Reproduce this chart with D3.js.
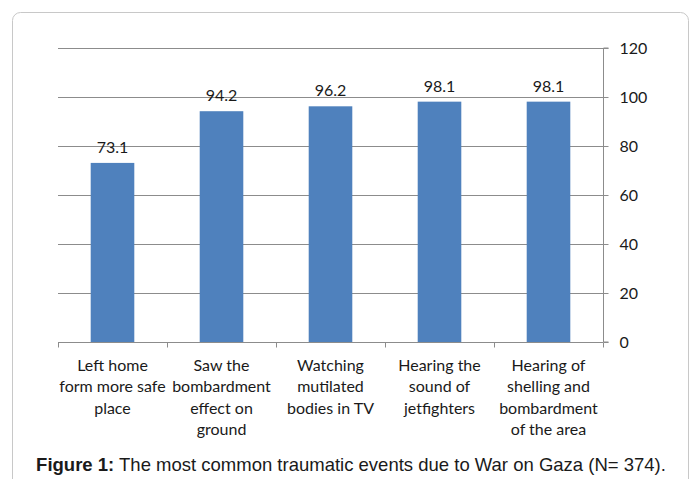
<!DOCTYPE html>
<html>
<head>
<meta charset="utf-8">
<script src="https://cdn.jsdelivr.net/npm/d3@7"></script>
<style>
  body { margin: 0; background: #fff; }
  svg text { font-family: Lato, "Open Sans", sans-serif; fill: #1a1a1a; }
</style>
</head>
<body>
<div id="chart"></div>
<script>
// data
const categories = [
    ["Left home", "form more safe", "place"],
    ["Saw the", "bombardment", "effect on", "ground"],
    ["Watching", "mutilated", "bodies in TV"],
    ["Hearing the", "sound of", "jetfighters"],
    ["Hearing of", "shelling and", "bombardment", "of the area"]
]
const values = [73.1, 94.2, 96.2, 98.1, 98.1]
const yTicks = [0, 20, 40, 60, 80, 100, 120]

const width = 695
const height = 479
const margin = { top: 48, right: 92, bottom: 137, left: 58 }

const svg = d3.select("#chart").append("svg").attr("width", width).attr("height", height)

// marco
svg.append("rect").attr("x", 12.5).attr("y", 12.5).attr("width", 676).attr("height", 480)
    .attr("rx", 8).attr("fill", "none").attr("stroke", "#c8c8c8")

const x = d3.scaleBand().domain(d3.range(values.length)).range([margin.left, width - margin.right])
    .paddingInner(0.6).paddingOuter(0.3)
const band = d3.scaleBand().domain(d3.range(values.length)).range([margin.left, width - margin.right])
const y = d3.scaleLinear().domain([0, 120]).range([height - margin.bottom, margin.top])

// grid
svg.append("g").selectAll("line").data(yTicks.filter(d => d > 0)).enter().append("line")
    .attr("x1", margin.left).attr("x2", width - margin.right)
    .attr("y1", d => Math.round(y(d)) + 0.5).attr("y2", d => Math.round(y(d)) + 0.5)
    .attr("stroke", "#8c8c8c")

// eje y derecha
const yAxis = d3.axisRight(y).tickValues(yTicks).tickSize(5).tickPadding(11)
const yAxisGroup = svg.append("g").attr("transform", `translate(${width - margin.right + 0.5},0)`).call(yAxis)
yAxisGroup.selectAll("path, line").attr("stroke", "#8c8c8c")
yAxisGroup.select(".domain").attr("d", `M5,${y(120)}H0V${y(0)}H5`)
yAxisGroup.selectAll("text").attr("font-size", 16).attr("fill", "#1a1a1a")

// barras
svg.append("g").selectAll(".bar").data(values).enter().append("rect")
    .attr("class", "bar")
    .attr("x", (d, i) => x(i))
    .attr("width", x.bandwidth())
    .attr("y", d => y(d))
    .attr("height", d => y(0) - y(d))
    .attr("fill", "#4f81bd")

// eje x
const base = Math.round(y(0)) + 0.5
const xg = svg.append("g")
xg.append("line").attr("x1", margin.left).attr("x2", width - margin.right)
    .attr("y1", base).attr("y2", base).attr("stroke", "#8c8c8c")
xg.selectAll(".tick").data(d3.range(values.length + 1)).enter().append("line")
    .attr("x1", i => Math.round(margin.left + i * band.bandwidth()) + 0.5)
    .attr("x2", i => Math.round(margin.left + i * band.bandwidth()) + 0.5)
    .attr("y1", base).attr("y2", base + 5).attr("stroke", "#8c8c8c")

// etiquetas de valores
svg.append("g").selectAll("text").data(values).enter().append("text")
    .attr("x", (d, i) => x(i) + x.bandwidth() / 2)
    .attr("y", d => y(d) - 10)
    .attr("text-anchor", "middle").attr("font-size", 16)
    .text(d => d.toFixed(1))

// categorias
const catText = svg.append("g").selectAll("text").data(categories).enter().append("text")
    .attr("text-anchor", "middle").attr("font-size", 16)
    .attr("x", (d, i) => band(i) + band.bandwidth() / 2)
    .attr("y", 371)
catText.selectAll("tspan").data(d => d).enter().append("tspan")
    .attr("x", function() { return this.parentNode.getAttribute("x") })
    .attr("dy", (d, i) => i === 0 ? 0 : 21.3)
    .text(d => d)

// titulo
const cap = svg.append("text").attr("x", 351).attr("y", 471).attr("text-anchor", "middle")
    .style("font-family", "'Liberation Sans', Arial, sans-serif").attr("font-size", 18.5)
cap.append("tspan").attr("font-weight", "bold").text("Figure 1:")
cap.append("tspan").text(" The most common traumatic events due to War on Gaza (N= 374).")
</script>
</body>
</html>
